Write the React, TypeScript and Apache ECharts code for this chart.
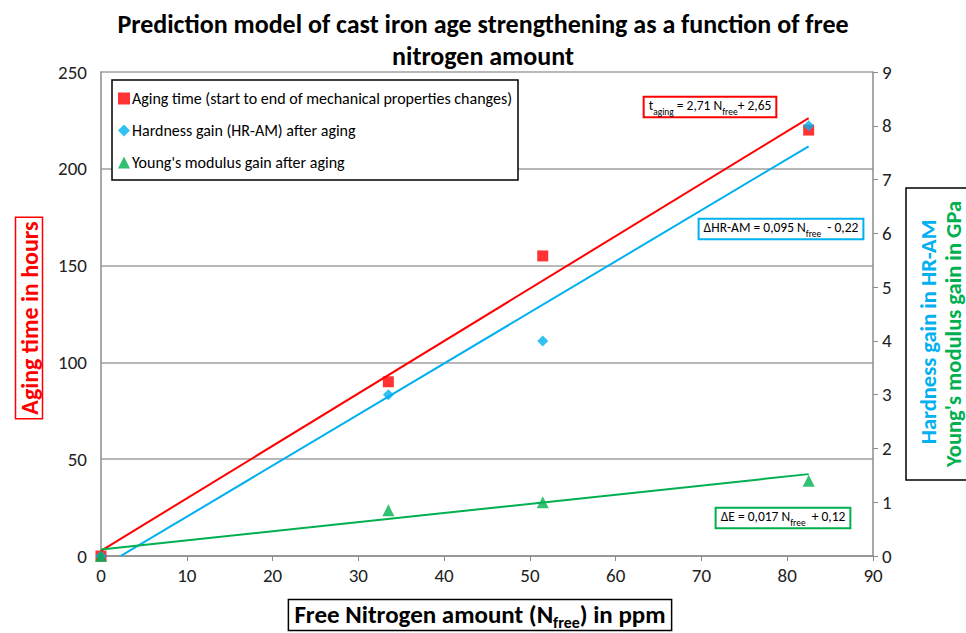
import React, { useEffect, useRef } from "react";
import * as echarts from "echarts";

const nFree = [0, 33.5, 51.5, 82.5];
const agingTime = [0, 90, 155, 220];
const hardnessGain = [0, 3.0, 4.0, 8.0];
const youngGain = [0, 0.85, 1.0, 1.4];

// trend line coefficients (slope, intercept) as printed on the chart
const agingFit = [2.71, 2.65];
const hardnessFit = [0.095, -0.22];
const youngFit = [0.017, 0.12];
const fitStart = [0, 2.32, 0];
const fitEnd = 82.5;

const seriesNames = [
  "Aging time (start to end of mechanical properties changes)",
  "Hardness gain (HR-AM) after aging",
  "Young's modulus gain after aging",
];

const FONT = "Carlito, 'Open Sans', sans-serif";
const RED = "#FF0000";
const BLUE = "#00B0F0";
const GREEN = "#00B050";

function fitLine(fit: number[], x0: number) {
  return [
    [x0, fit[0] * x0 + fit[1]],
    [fitEnd, fit[0] * fitEnd + fit[1]],
  ];
}

export default function App() {
  const ref = useRef<HTMLDivElement>(null);
  useEffect(() => {
    document.body.style.margin = "0";
    if (!ref.current) return;
    const chart = echarts.init(ref.current, null, { renderer: "svg" });
    const eqStyle = (color: string, fs: number) => ({
      fill: "#000",
      fontSize: fs,
      fontFamily: FONT,
      align: "center",
      verticalAlign: "middle",
      borderColor: color,
      borderWidth: 2,
      padding: [1, 4, 0, 4],
      backgroundColor: "#fff",
      rich: {
        m: { fontSize: fs, fontFamily: FONT, verticalAlign: "top", lineHeight: fs + 4 },
        s: { fontSize: fs * 0.7, fontFamily: FONT, padding: [8, 0, 0, 0], verticalAlign: "bottom", lineHeight: 11 },
      },
    });
    chart.setOption({
      animation: false,
      title: {
        text: "Prediction model of cast iron age strengthening as a function of free\nnitrogen amount",
        left: "center",
        top: 3,
        textStyle: { fontFamily: FONT, fontSize: 26, fontWeight: "bold", color: "#000", lineHeight: 32 },
      },
      grid: { left: 101, right: 93, top: 72, bottom: 77 },
      legend: {
        data: seriesNames,
        orient: "vertical",
        left: 112,
        top: 80,
        padding: [10, 6, 9, 6],
        itemGap: 15,
        itemWidth: 12,
        itemHeight: 12,
        borderColor: "#000",
        borderWidth: 1.5,
        backgroundColor: "#fff",
        textStyle: { fontFamily: FONT, fontSize: 16, color: "#000", padding: [0, 0, 0, -3], lineHeight: 17 },
      },
      xAxis: {
        type: "value",
        min: 0,
        max: 90,
        interval: 10,
        axisLine: { show: true, lineStyle: { color: "#8c8c8c", width: 1.5 } },
        axisTick: { show: true, length: 5, lineStyle: { color: "#8c8c8c" } },
        splitLine: { show: false },
        axisLabel: { fontFamily: FONT, fontSize: 19, color: "#222", margin: 10 },
      },
      yAxis: [
        {
          type: "value",
          min: 0,
          max: 250,
          interval: 50,
          axisLine: { show: true, lineStyle: { color: "#8c8c8c", width: 1.5 } },
          axisTick: { show: false },
          splitLine: { show: true, lineStyle: { color: "#a0a0a0", width: 1.5 } },
          axisLabel: { fontFamily: FONT, fontSize: 19, color: "#222", margin: 14 },
        },
        {
          type: "value",
          min: 0,
          max: 9,
          interval: 1,
          position: "right",
          axisLine: { show: true, lineStyle: { color: "#8c8c8c", width: 1.5 } },
          axisTick: { show: true, length: 5, lineStyle: { color: "#8c8c8c" } },
          splitLine: { show: false },
          axisLabel: { fontFamily: FONT, fontSize: 19, color: "#222", margin: 9 },
        },
      ],
      series: [
        {
          name: "fitAging",
          type: "line",
          yAxisIndex: 0,
          data: fitLine(agingFit, fitStart[0]),
          symbol: "none",
          lineStyle: { color: RED, width: 2 },
          silent: true,
        },
        {
          name: "fitHardness",
          type: "line",
          yAxisIndex: 1,
          data: fitLine(hardnessFit, fitStart[1]),
          symbol: "none",
          lineStyle: { color: BLUE, width: 2 },
          silent: true,
        },
        {
          name: "fitYoung",
          type: "line",
          yAxisIndex: 1,
          data: fitLine(youngFit, fitStart[2]),
          symbol: "none",
          lineStyle: { color: GREEN, width: 2 },
          silent: true,
        },
        {
          name: seriesNames[0],
          type: "scatter",
          yAxisIndex: 0,
          symbol: "rect",
          symbolSize: 11,
          itemStyle: { color: RED },
          data: nFree.map((x, i) => [x, agingTime[i]]),
        },
        {
          name: seriesNames[1],
          type: "scatter",
          yAxisIndex: 1,
          symbol: "diamond",
          symbolSize: 11,
          itemStyle: { color: BLUE },
          data: nFree.map((x, i) => [x, hardnessGain[i]]),
        },
        {
          name: seriesNames[2],
          type: "scatter",
          yAxisIndex: 1,
          symbol: "triangle",
          symbolSize: 12,
          itemStyle: { color: GREEN },
          data: nFree.map((x, i) => [x, youngGain[i]]),
        },
      ],
      graphic: [
        {
          type: "text",
          x: 29,
          y: 318,
          rotation: Math.PI / 2,
          style: {
            text: "Aging time in hours",
            fill: RED,
            fontSize: 24,
            fontWeight: "bold",
            fontFamily: FONT,
            align: "center",
            verticalAlign: "middle",
            borderColor: RED,
            borderWidth: 1.5,
            padding: [3, 4, 0, 4],
          },
        },
        {
          type: "rect",
          shape: { x: 906, y: 188, width: 80, height: 292 },
          style: { fill: "none", stroke: "#000", lineWidth: 1.5 },
        },
        {
          type: "text",
          x: 928,
          y: 332,
          rotation: Math.PI / 2,
          style: {
            text: "Hardness gain in HR-AM",
            fill: BLUE,
            fontSize: 22.5,
            fontWeight: "bold",
            fontFamily: FONT,
            align: "center",
            verticalAlign: "middle",
          },
        },
        {
          type: "text",
          x: 953,
          y: 334,
          rotation: Math.PI / 2,
          style: {
            text: "Young's modulus gain in GPa",
            fill: GREEN,
            fontSize: 22.5,
            fontWeight: "bold",
            fontFamily: FONT,
            align: "center",
            verticalAlign: "middle",
          },
        },
        {
          type: "text",
          x: 480,
          y: 615,
          style: {
            text: "{m|Free Nitrogen amount (N}{s|free}{m|) in ppm}",
            fill: "#000",
            align: "center",
            verticalAlign: "middle",
            borderColor: "#000",
            borderWidth: 1.5,
            padding: [2, 6, 0, 6],
            rich: {
              m: { fontSize: 25, fontWeight: "bold", fontFamily: FONT, verticalAlign: "top", lineHeight: 29 },
              s: { fontSize: 16, fontWeight: "bold", fontFamily: FONT, verticalAlign: "bottom", lineHeight: 18, padding: [13, 0, 0, 0] },
            },
          },
        },
        {
          type: "text",
          x: 710,
          y: 107,
          style: { ...eqStyle(RED, 13.5), text: "{m|t}{s|aging}{m| = 2,71 N}{s|free}{m|+ 2,65}" },
        },
        {
          type: "text",
          x: 781,
          y: 229,
          style: { ...eqStyle(BLUE, 13.5), text: "{m|ΔHR-AM = 0,095 N}{s|free}{m|  - 0,22}" },
        },
        {
          type: "text",
          x: 783,
          y: 518,
          style: { ...eqStyle(GREEN, 13.5), text: "{m|ΔE = 0,017 N}{s|free}{m|  + 0,12}" },
        },
      ],
    });
    return () => chart.dispose();
  }, []);
  return <div ref={ref} style={{ width: 966, height: 633 }} />;
}
